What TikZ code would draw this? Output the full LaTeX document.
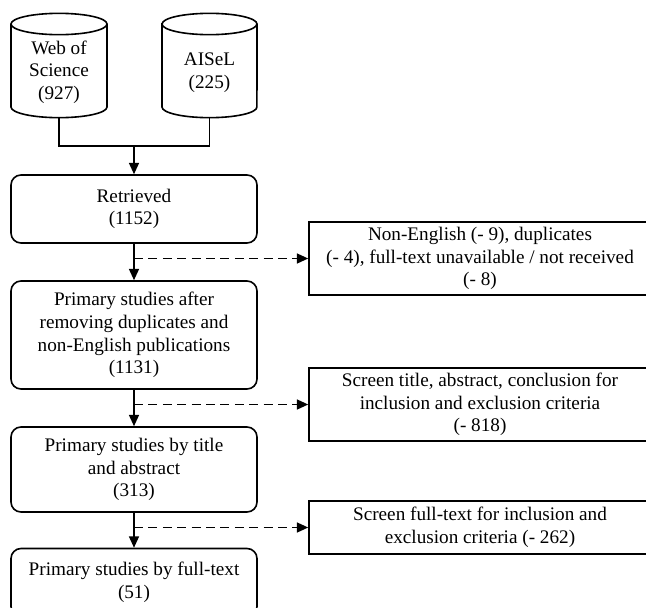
\documentclass[tikz,border=0pt]{standalone}
\usepackage{fontspec}
\setmainfont{Liberation Serif}
\usetikzlibrary{arrows.meta}
\begin{document}
\begin{tikzpicture}[x=0.75pt,y=0.75pt,
  line width=1.2pt,
  txt/.style={font=\fontsize{14.4pt}{17pt}\selectfont, align=center, inner sep=0pt},
  leftbox/.style={txt, draw, rounded corners=7.5pt, minimum width=184.5pt},
  rightbox/.style={txt, draw, minimum width=256.5pt},
  arr/.style={-{Triangle[length=8.5pt,width=7.5pt]}},
  darr/.style={arr, dash pattern=on 6.8pt off 4pt}]
\useasboundingbox (0,0) rectangle (646,-607);
\clip (0,0) rectangle (646,-607);

% cylinders
\draw (11,-24) -- (11,-107) arc[start angle=180,end angle=360,x radius=36pt,y radius=8pt]
  -- (107,-24) arc[start angle=0,end angle=180,x radius=36pt,y radius=8pt] -- cycle;
\draw (11,-24) arc[start angle=180,end angle=360,x radius=36pt,y radius=8pt];
\draw (162,-24) -- (162,-107) arc[start angle=180,end angle=360,x radius=35.6pt,y radius=8pt]
  -- (257,-24) arc[start angle=0,end angle=180,x radius=35.6pt,y radius=8pt] -- cycle;
\draw (162,-24) arc[start angle=180,end angle=360,x radius=35.6pt,y radius=8pt];

\node[txt] (wos) at (59,-72) {Web of\\Science\\(927)};
\node[txt] (aisel) at (209.5,-73) {AISeL\\(225)};
\coordinate (wosb) at (59,-117.7);
\coordinate (aiselb) at (209.5,-117.7);
\coordinate (j) at (134,-146);

% left boxes
\node[leftbox, minimum height=51pt] (ret) at (134,-209) {Retrieved\\(1152)};
\node[leftbox, minimum height=81pt] (b2) at (134,-335) {Primary studies after\\removing duplicates and\\non-English publications\\(1131)};
\node[leftbox, minimum height=63.75pt] (b3) at (134,-469.5) {Primary studies by title\\and abstract\\(313)};
\node[leftbox, minimum height=51pt] (b4) at (134,-582.5) {Primary studies by full-text\\(51)};

% right boxes
\node[rightbox, minimum height=54.75pt] (r1) at (480,-258.5) {Non-English (- 9), duplicates\\(- 4), full-text unavailable / not received\\(- 8)};
\node[rightbox, minimum height=54.75pt] (r2) at (480,-404.5) {Screen title, abstract, conclusion for\\inclusion and exclusion criteria\\(- 818)};
\node[rightbox, minimum height=39.75pt] (r3) at (480,-527.5) {Screen full-text for inclusion and\\exclusion criteria (- 262)};

% connectors
\draw (wosb) |- (j) -| (aiselb);
\draw[arr] (j) -- (ret.north);
\draw[arr] (ret.south) -- (b2.north);
\draw[arr] (b2.south) -- (b3.north);
\draw[arr] (b3.south) -- (b4.north);
\draw[darr] (ret.south |- r1.west) -- (r1.west);
\draw[darr] (b2.south |- r2.west) -- (r2.west);
\draw[darr] (b3.south |- r3.west) -- (r3.west);
\end{tikzpicture}
\end{document}
